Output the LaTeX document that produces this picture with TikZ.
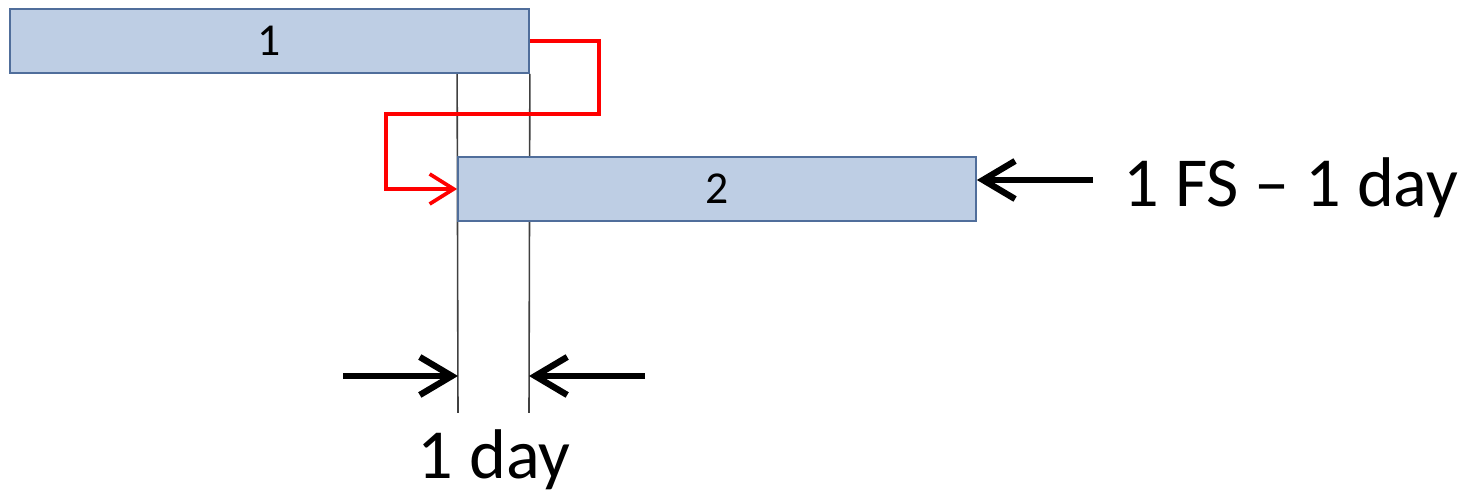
\documentclass[tikz,border=0pt]{standalone}
\usepackage{fontspec}
\setmainfont{Carlito}
\usepackage{tikz}
\usetikzlibrary{arrows.meta}
\usetikzlibrary{backgrounds}

\definecolor{barfill}{RGB}{190,206,228}
\definecolor{barline}{RGB}{80,110,155}
\definecolor{linkred}{RGB}{255,0,0}

\tikzset{
	bar/.style={draw=barline,fill=barfill,line width=0.5pt,minimum height=0.64cm,inner sep=0pt,font=\fontsize{13}{15}\selectfont},
	guide/.style={draw=black!75,line width=0.45pt},
	link/.style={draw=linkred,line width=1.05pt,-{Straight Barb[length=0.24cm,width=0.3cm,line width=1.05pt]}},
	pointer/.style={line width=1.8pt,-{Straight Barb[length=0.32cm,width=0.38cm,line width=1.8pt]}},
	label/.style={inner sep=0pt,font=\fontsize{20}{24}\selectfont}
}

\begin{document}
\begin{tikzpicture}
		\useasboundingbox (0,0) rectangle (14.68,-4.97);
		\node[bar,minimum width=5.19cm] (t1) at (2.695,-0.41) {1};
		\node[bar,minimum width=5.18cm] (t2) at (7.17,-1.89) {2};
		\coordinate (g1) at (4.58,-4.13);
		\coordinate (g2) at (5.29,-4.13);
		\begin{scope}[on background layer]
		\draw[guide] (t2.west |- t1.south) to (g1);
		\draw[guide] (t1.south east) to (g2);
		\end{scope}
		\draw[link] (t1.east) -- ++(0.69,0) |- (3.86,-1.14) |- (t2.west);
		\coordinate (fs) at (10.93,-1.80);
		\draw[pointer] (fs) to (fs -| t2.east);
		\node[label,anchor=base west] (lag) at (11.23,-2.07) {1 FS – 1 day};
		\coordinate (la) at (3.43,-3.76);
		\coordinate (ra) at (6.45,-3.76);
		\draw[pointer] (la) to (la -| g1);
		\draw[pointer] (ra) to (ra -| g2);
		\node[label,anchor=base] (day) at (4.94,-4.79) {1 day};
		\end{tikzpicture}
\end{document}
